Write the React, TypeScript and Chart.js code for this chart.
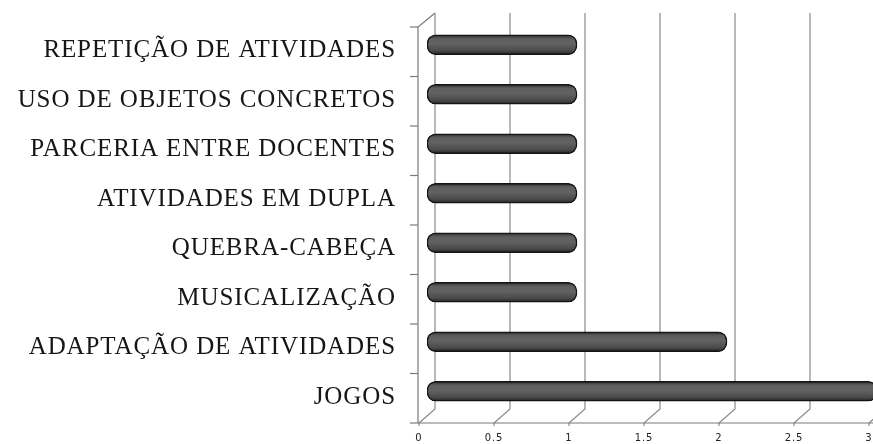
import React, { useEffect, useRef } from "react";
import { Chart, registerables } from "chart.js";

Chart.register(...registerables);

const categories = [
  "REPETIÇÃO DE ATIVIDADES",
  "USO DE OBJETOS CONCRETOS",
  "PARCERIA ENTRE DOCENTES",
  "ATIVIDADES EM DUPLA",
  "QUEBRA-CABEÇA",
  "MUSICALIZAÇÃO",
  "ADAPTAÇÃO DE ATIVIDADES",
  "JOGOS",
];
const values = [1, 1, 1, 1, 1, 1, 2, 3];
const xTicks = [0, 0.5, 1, 1.5, 2, 2.5, 3];

const DEPTH_X = 8;
const DEPTH_Y = 7;

const letterSpacing = {
  id: "letterSpacing",
  beforeDraw(chart: any) {
    (chart.ctx as any).letterSpacing = "0.9px";
  },
  beforeDatasetsDraw(chart: any) {
    (chart.ctx as any).letterSpacing = "0px";
  },
  afterDraw(chart: any) {
    (chart.ctx as any).letterSpacing = "0px";
  },
};

const frame3d = {
  id: "frame3d",
  beforeDatasetsDraw(chart: any) {
    const { ctx, chartArea, scales } = chart;
    const x = scales.x;
    const top = chartArea.top;
    const bottom = chartArea.bottom;
    ctx.save();
    ctx.strokeStyle = "#8a8a8a";
    ctx.lineWidth = 1.2;
    xTicks.forEach((v) => {
      const xm = x.getPixelForValue(v);
      const xb = xm + DEPTH_X;
      const xf = xm - DEPTH_X;
      ctx.beginPath();
      ctx.moveTo(xb, top - DEPTH_Y);
      ctx.lineTo(xb, bottom - DEPTH_Y);
      ctx.lineTo(xf, bottom + DEPTH_Y);
      ctx.stroke();
      ctx.beginPath();
      ctx.moveTo(xf, bottom + DEPTH_Y);
      ctx.lineTo(xf, bottom + DEPTH_Y + 3);
      ctx.stroke();
    });
    const x0 = x.getPixelForValue(0);
    const xf0 = x0 - DEPTH_X - 1;
    ctx.strokeStyle = "#7a7a7a";
    ctx.beginPath();
    ctx.moveTo(xf0, bottom + DEPTH_Y);
    ctx.lineTo(chart.width, bottom + DEPTH_Y);
    ctx.stroke();
    ctx.beginPath();
    ctx.moveTo(x0 + DEPTH_X, top - DEPTH_Y);
    ctx.lineTo(xf0, top + DEPTH_Y);
    ctx.lineTo(xf0, bottom + DEPTH_Y);
    ctx.stroke();
    const n = categories.length;
    const step = (bottom - top) / n;
    for (let i = 0; i <= n; i++) {
      const yy = top + DEPTH_Y + i * step;
      ctx.beginPath();
      ctx.moveTo(xf0 - 8, yy);
      ctx.lineTo(xf0, yy);
      ctx.stroke();
    }
    ctx.restore();
  },
};

function barFill(context: any) {
  const chart = context.chart;
  const ys = chart.scales && chart.scales.y;
  if (!ys || context.dataIndex === undefined) return "#555555";
  const c = ys.getPixelForValue(context.dataIndex);
  if (!Number.isFinite(c)) return "#555555";
  const h = 10;
  const g = chart.ctx.createLinearGradient(0, c - h, 0, c + h);
  g.addColorStop(0, "#2a2a2a");
  g.addColorStop(0.2, "#5e5e5e");
  g.addColorStop(0.45, "#626262");
  g.addColorStop(0.8, "#4a4a4a");
  g.addColorStop(1, "#222222");
  return g;
}

export default function App() {
  const ref = useRef<HTMLCanvasElement | null>(null);
  useEffect(() => {
    if (!ref.current) return;
    const chart = new Chart(ref.current, {
      type: "bar",
      data: {
        labels: categories,
        datasets: [
          {
            data: values,
            backgroundColor: barFill as any,
            borderColor: "#141414",
            borderWidth: 1.5,
            borderRadius: 9,
            borderSkipped: false,
            barThickness: 20,
          },
        ],
      },
      options: {
        indexAxis: "y",
        responsive: false,
        animation: false,
        devicePixelRatio: 1,
        layout: { padding: { top: 20, right: 3, left: 0, bottom: 0 } },
        plugins: {
          legend: { display: false },
          tooltip: { enabled: false },
        },
        scales: {
          x: {
            min: 0,
            max: 3,
            afterFit: (s: any) => {
              s.height = 28;
              s.paddingLeft = 0;
              s.paddingRight = 0;
            },
            afterBuildTicks: (s: any) => {
              s.ticks = xTicks.map((v) => ({ value: v }));
            },
            grid: { display: false, drawTicks: false },
            border: { display: false },
            ticks: {
              padding: 16,
              labelOffset: -DEPTH_X,
              color: "#222222",
              font: { family: "DejaVu Sans", size: 10 },
              callback: (v: any) => String(v),
            },
          },
          y: {
            afterFit: (s: any) => {
              s.width = 427;
              s.paddingTop = 0;
              s.paddingBottom = 0;
            },
            grid: { display: false, drawTicks: false },
            border: { display: false },
            ticks: {
              padding: 31,
              labelOffset: DEPTH_Y - 1,
              color: "#161616",
              font: { family: "Liberation Serif", size: 25 },
            },
          },
        },
      },
      plugins: [letterSpacing, frame3d],
    });
    return () => chart.destroy();
  }, []);
  return (
    <div
      style={{
        position: "fixed",
        left: 0,
        top: 0,
        width: 880,
        height: 444,
        background: "#ffffff",
      }}
    >
      <canvas ref={ref} width={880} height={444} />
    </div>
  );
}
